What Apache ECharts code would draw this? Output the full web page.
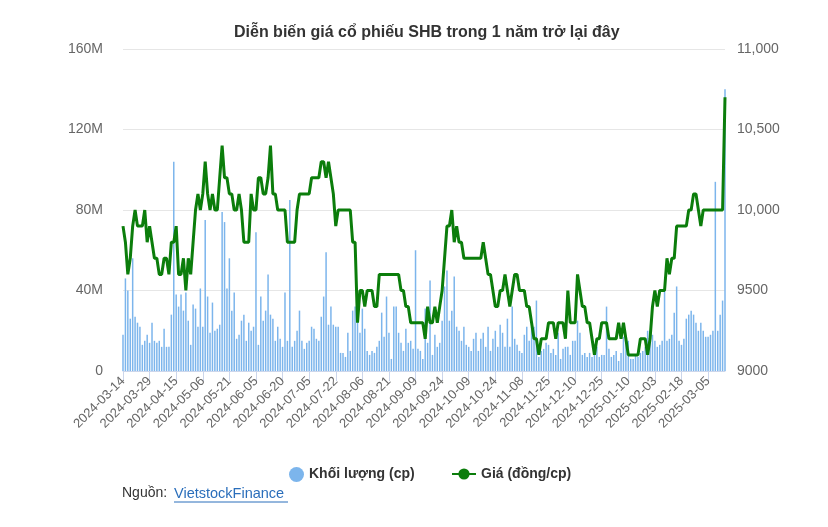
<!DOCTYPE html>
<html>
<head>
<meta charset="utf-8">
<script src="https://cdn.jsdelivr.net/npm/echarts@6/dist/echarts.min.js"></script>
<style>
html, body { margin: 0; padding: 0; background: #fff; }
#chart { width: 828px; height: 527px; }
</style>
</head>
<body>
<div id="chart"></div>
<script>
// trading calendar (HOSE), 1 year back
const startDate = '2024-03-14';
const endDate = '2025-03-14';
const holidays = [
  '2024-04-18', '2024-04-29', '2024-04-30', '2024-05-01',
  '2024-09-02', '2024-09-03', '2025-01-01',
  '2025-01-27', '2025-01-28', '2025-01-29', '2025-01-30', '2025-01-31',
];

// khối lượng, triệu cp
const volumeM = [
  18, 46, 40, 26, 56, 27, 24, 22, 13, 15,
  18, 14, 24, 15, 14, 15, 12, 21, 12, 12,
  28, 104, 38, 32, 38, 30, 39, 25, 13, 33,
  31, 22, 41, 22, 75, 37, 19, 34, 20, 21,
  23, 79, 74, 41, 56, 30, 39, 16, 18, 25,
  28, 15, 24, 20, 22, 69, 13, 37, 25, 30,
  48, 28, 26, 15, 22, 16, 12, 39, 15, 85,
  12, 15, 20, 30, 15, 11, 14, 15, 22, 21,
  16, 15, 27, 37, 59, 23, 32, 23, 22, 22,
  9, 9, 7, 19, 10, 30, 32, 25, 19, 31,
  21, 10, 8, 10, 9, 12, 15, 29, 17, 37,
  19, 6, 32, 32, 19, 14, 10, 21, 14, 15,
  11, 60, 11, 10, 6, 31, 14, 45, 8, 18,
  12, 14, 25, 42, 50, 25, 30, 47, 22, 20,
  15, 22, 13, 12, 10, 16, 19, 10, 16, 19,
  12, 22, 10, 16, 20, 12, 23, 19, 12, 26,
  12, 32, 16, 13, 10, 9, 18, 22, 15, 22,
  22, 35, 7, 10, 11, 14, 13, 9, 11, 8,
  19, 6, 11, 12, 12, 8, 15, 15, 25, 19,
  8, 9, 7, 9, 7, 10, 12, 7, 8, 8,
  32, 11, 7, 8, 10, 5, 9, 17, 16, 15,
  6, 6, 8, 7, 9, 10, 12, 20, 20, 18,
  15, 12, 13, 15, 41, 15, 16, 18, 29, 42,
  15, 13, 16, 26, 28, 30, 28, 24, 20, 24,
  20, 17, 17, 18, 20, 94, 20, 28, 35, 140,
];

// giá, đồng/cp
const price = [
  9900, 9800, 9600, 9700, 9900, 10000, 9900, 9900, 9900, 10000,
  9800, 9900, 9800, 9700, 9700, 9600, 9600, 9700, 9700, 9600,
  9800, 9800, 9900, 9600, 9600, 9700, 9500, 9700, 9600, 9800,
  10000, 10100, 10000, 10100, 10300, 10100, 10000, 10100, 10000, 10000,
  10200, 10400, 10200, 10200, 10100, 10100, 10000, 10000, 10100, 10000,
  9800, 9800, 9800, 10100, 10000, 10000, 10200, 10200, 10100, 10100,
  10200, 10400, 10100, 10100, 10000, 10000, 10000, 10000, 9800, 9800,
  9800, 9800, 10000, 10100, 10100, 10100, 10100, 10100, 10200, 10200,
  10200, 10200, 10300, 10300, 10200, 10300, 10200, 10100, 9900, 10000,
  10000, 10000, 10000, 10000, 10000, 9800, 9800, 9300, 9500, 9500,
  9400, 9500, 9500, 9500, 9400, 9400, 9600, 9600, 9600, 9600,
  9600, 9600, 9600, 9600, 9600, 9500, 9500, 9400, 9400, 9300,
  9300, 9300, 9300, 9300, 9300, 9200, 9400, 9300, 9300, 9400,
  9300, 9400, 9500, 9700, 9900, 9900, 10000, 9800, 9900, 9800,
  9800, 9700, 9700, 9700, 9700, 9700, 9700, 9700, 9700, 9800,
  9700, 9600, 9600, 9500, 9400, 9400, 9500, 9500, 9600, 9500,
  9400, 9500, 9600, 9600, 9500, 9500, 9500, 9400, 9400, 9300,
  9200, 9200, 9100, 9200, 9200, 9200, 9300, 9300, 9300, 9200,
  9300, 9300, 9300, 9200, 9500, 9300, 9300, 9300, 9600, 9500,
  9400, 9400, 9300, 9300, 9200, 9100, 9200, 9200, 9300, 9300,
  9300, 9200, 9200, 9200, 9200, 9300, 9200, 9300, 9200, 9100,
  9100, 9100, 9100, 9100, 9200, 9200, 9200, 9100, 9200, 9400,
  9500, 9400, 9500, 9500, 9500, 9700, 9600, 9700, 9700, 9900,
  9900, 9900, 9900, 9900, 10000, 10000, 10100, 10100, 10000, 9900,
  10000, 10000, 10000, 10000, 10000, 10000, 10000, 10000, 10000, 10700,
];

const volTicks = [0, 40, 80, 120, 160];
const priceTicks = [9000, 9500, 10000, 10500, 11000];

function tradingDays(from, to, skip) {
  const out = [];
  const d = new Date(from + 'T00:00:00Z');
  const end = new Date(to + 'T00:00:00Z');
  while (d <= end) {
    const s = d.toISOString().slice(0, 10);
    const wd = d.getUTCDay();
    if (wd !== 0 && wd !== 6 && !skip.includes(s)) out.push(s);
    d.setUTCDate(d.getUTCDate() + 1);
  }
  return out;
}

const dates = tradingDays(startDate, endDate, holidays);

const font = '"Liberation Sans", Arial, sans-serif';
const chart = echarts.init(document.getElementById('chart'));

chart.setOption({
  backgroundColor: '#fff',
  animation: false,
  textStyle: { fontFamily: font },
  title: {
    text: 'Diễn biến giá cổ phiếu SHB trong 1 năm trở lại đây',
    left: 229,
    top: 20,
    textStyle: { fontSize: 16, fontWeight: 'bold', color: '#333', fontFamily: font },
  },
  legend: [
    {
      data: ['Khối lượng (cp)'],
      left: 284,
      top: 462,
      icon: 'circle',
      itemWidth: 15,
      itemHeight: 15,
      textStyle: { fontSize: 14, fontWeight: 'bold', color: '#333', fontFamily: font },
    },
    {
      data: ['Giá (đồng/cp)'],
      left: 446,
      top: 462,
      itemWidth: 24,
      itemHeight: 14,
      textStyle: { fontSize: 14, fontWeight: 'bold', color: '#333', fontFamily: font },
    },
  ],
  grid: { left: 123, right: 103, top: 49, bottom: 156 },
  xAxis: {
    type: 'category',
    boundaryGap: false,
    data: dates,
    axisLine: { lineStyle: { color: '#ccd6eb' } },
    axisTick: { interval: 10, length: 10, lineStyle: { color: '#ccd6eb' } },
    axisLabel: { interval: 10, rotate: 45, color: '#666', fontSize: 13, margin: 8 },
    splitLine: { show: false },
  },
  yAxis: [
    {
      type: 'value',
      min: volTicks[0],
      max: volTicks[volTicks.length - 1],
      interval: 40,
      axisLine: { show: false },
      axisTick: { show: false },
      axisLabel: {
        color: '#666',
        fontSize: 14,
        margin: 20,
        formatter: (v) => (v === 0 ? '0' : v + 'M'),
      },
      splitLine: { lineStyle: { color: '#e6e6e6' } },
    },
    {
      type: 'value',
      min: priceTicks[0],
      max: priceTicks[priceTicks.length - 1],
      interval: 500,
      axisLine: { show: false },
      axisTick: { show: false },
      axisLabel: {
        color: '#666',
        fontSize: 14,
        margin: 12,
        formatter: (v) => (v >= 10000 ? v.toLocaleString('en-US') : String(v)),
      },
      splitLine: { show: false },
    },
  ],
  series: [
    {
      name: 'Khối lượng (cp)',
      type: 'bar',
      yAxisIndex: 0,
      barWidth: 1.5,
      itemStyle: { color: '#7cb5ec' },
      data: volumeM,
    },
    {
      name: 'Giá (đồng/cp)',
      type: 'line',
      yAxisIndex: 1,
      symbol: 'circle',
      symbolSize: 8,
      showSymbol: false,
      z: 5,
      lineStyle: { color: '#0b7d0b', width: 3 },
      itemStyle: { color: '#0b7d0b' },
      data: price,
    },
  ],
  graphic: [
    {
      type: 'text',
      left: 122,
      top: 486,
      style: { text: 'Nguồn:', fill: '#333', font: '14px ' + font },
    },
    {
      type: 'text',
      left: 174,
      top: 486,
      style: { text: 'VietstockFinance', fill: '#2a6ebb', font: '14.5px ' + font },
    },
    {
      type: 'line',
      shape: { x1: 174, y1: 502, x2: 288, y2: 502 },
      style: { stroke: '#2a6ebb', lineWidth: 1 },
    },
  ],
});

window.addEventListener('resize', () => chart.resize());
</script>
</body>
</html>
